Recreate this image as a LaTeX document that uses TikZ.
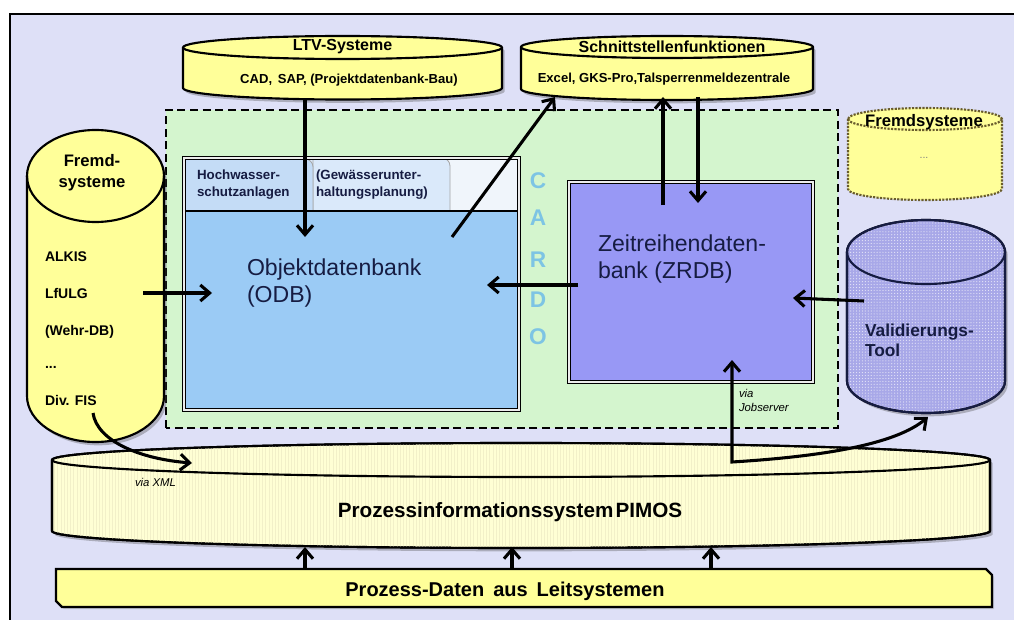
\documentclass[tikz,border=0pt]{standalone}
\usepackage{fontspec}
\setmainfont{Liberation Sans}
\usetikzlibrary{arrows.meta,shadows,patterns.meta}

\definecolor{bgLav}{RGB}{222,224,247}
\definecolor{zoneGreen}{RGB}{212,245,206}
\definecolor{dbYellow}{RGB}{255,255,153}
\definecolor{pimYellow}{RGB}{255,255,212}
\definecolor{pimStripe}{RGB}{242,240,200}
\definecolor{odbBlue}{RGB}{155,203,245}
\definecolor{tabA}{RGB}{196,220,246}
\definecolor{tabB}{RGB}{218,233,250}
\definecolor{tabC}{RGB}{240,245,251}
\definecolor{zrdbViolet}{RGB}{152,152,245}
\definecolor{valViolet}{RGB}{168,168,232}
\definecolor{cardoCyan}{RGB}{125,196,228}
\definecolor{inkNavy}{RGB}{22,28,66}
\definecolor{dotOlive}{RGB}{105,92,45}

\newcommand\fsz[2]{\fontsize{#1}{#2}\selectfont}
% vertical database cylinder: x1, x2, top-ellipse centre y, bottom-ellipse centre y, ry, style
\newcommand\dbcyl[6]{%
  \pgfmathsetmacro\cylrx{(#2-#1)/2}%
  \path[#6] (#1,#3) -- (#1,#4)
    arc[start angle=180,end angle=360,x radius=\cylrx,y radius=#5]
    -- (#2,#3)
    arc[start angle=0,end angle=180,x radius=\cylrx,y radius=#5] -- cycle;}
% front edge of the top ellipse
\newcommand\dbrim[6]{%
  \pgfmathsetmacro\cylrx{(#2-#1)/2}%
  \path[#6] (#1,#3) arc[start angle=180,end angle=360,x radius=\cylrx,y radius=#5];}

\begin{document}
\begin{tikzpicture}[x=0.75pt,y=0.75pt,
  every node/.style={inner sep=0pt,outer sep=0pt},
  shade/.style={drop shadow={shadow xshift=2pt,shadow yshift=-2.5pt,opacity=0.35,fill=black!70}},
  cylbody/.style={draw=black,line width=1.6pt},
  cylrim/.style={draw=black,line width=1.6pt},
  tip/.tip={Straight Barb[length=7pt,width=12pt]},
  flow/.style={line width=2.3pt,-tip},
  flowboth/.style={line width=2.3pt,tip-tip},
  title/.style={font=\bfseries\fsz{12}{14}},
  subtitle/.style={font=\bfseries\fsz{9.8}{12}},
  listitem/.style={anchor=west,font=\bfseries\fsz{10.5}{12}},
  tabtxt/.style={anchor=west,align=left,text=inkNavy,font=\bfseries\fsz{10}{12.7}},
  bigtxt/.style={anchor=west,align=left,text=inkNavy,font=\fsz{17.3}{20.3}},
  cardo/.style={text=cardoCyan,font=\bfseries\fsz{17}{19}},
  viatxt/.style={anchor=west,align=left,font=\itshape\fsz{8.5}{11}}]

\useasboundingbox (0,0) rectangle (1014,619);
\clip (0,0) rectangle (1014,619);
\fill[white] (0,0) rectangle (1014,619);
\draw[fill=bgLav,line width=0.8pt] (10,-20) rectangle (1030,605);

% ---- CARDO zone ----
\draw[fill=zoneGreen,line width=1.5pt,dash pattern=on 6pt off 3.5pt] (166,191) rectangle (838,509);

% ---- external systems on top ----
\dbcyl{183}{502}{571.5}{531}{11.5}{cylbody,fill=dbYellow,shade}
\dbrim{183}{502}{571.5}{531}{11.5}{cylrim}
\node[title] (ltv) at (342.5,572) {LTV-Systeme};
\node[subtitle] (ltvsub) at (349,539) {CAD,\, SAP, (Projektdatenbank-Bau)};

\dbcyl{521}{813}{572}{530}{11}{cylbody,fill=dbYellow,shade}
\dbrim{521}{813}{572}{530}{11}{cylrim}
\node[title] (sst) at (672,572) {Schnittstellenfunktionen};
\node[subtitle] (sstsub) at (664,540) {Excel, GKS-Pro,Talsperrenmeldezentrale};

\dbcyl{848}{1002}{500}{430}{11}{draw=dotOlive,line width=1.6pt,densely dotted,fill=dbYellow}
\dbrim{848}{1002}{500}{430}{11}{draw=dotOlive,line width=1.6pt,densely dotted}
\node[font=\bfseries\fsz{12.5}{14}] (fsr) at (924,497) {Fremdsysteme};
\node[text=gray,font=\fsz{8}{10}] (fsrdots) at (924,461) {...};

% ---- left external systems ----
\dbcyl{27}{164}{443}{223}{46}{cylbody,fill=dbYellow,shade}
\dbrim{27}{164}{443}{223}{46}{cylrim}
\node[align=center,font=\bfseries\fsz{12.5}{15.5}] (fsl) at (92,446) {Fremd-\\systeme};
\node[listitem] (alkis) at (45,362) {ALKIS};
\node[listitem] (lfulg) at (45,326) {LfULG};
\node[listitem] (wehr) at (45,287) {(Wehr-DB)};
\node[listitem] (more) at (45,252) {...};
\node[listitem] (fis) at (45,219) {Div. FIS};

% ---- Objektdatenbank ----
\fill[odbBlue] (184,209) rectangle (519,408);
\fill[tabC] (184,408) rectangle (519,461);
\fill[tabB] (184,408) -- (184,461) -- (442,461) arc[start angle=90,end angle=0,radius=8] -- (450,408) -- cycle;
\draw[gray!70,line width=0.6pt] (313,408) -- (313,461) -- (442,461) arc[start angle=90,end angle=0,radius=8] -- (450,408);
\fill[tabA] (185,408) -- (185,460) -- (305,460) arc[start angle=90,end angle=0,radius=8] -- (313,408) -- cycle;
\draw[gray!70,line width=0.6pt] (305,460) arc[start angle=90,end angle=0,radius=8] -- (313,408);
\draw[black,line width=1pt] (184,408) -- (519,408);
\draw[black,line width=0.9pt,double=white!85!gray,double distance=0.8pt] (184,209) rectangle (519,461);
\node[tabtxt] (tabhw) at (197,434.5) {Hochwasser-\\schutzanlagen};
\node[tabtxt] (tabgw) at (316,434.5) {(Gewässerunter-\\haltungsplanung)};
\node[bigtxt] (odb) at (247,336) {Objektdatenbank\\(ODB)};

% ---- CARDO lettering ----
\node[cardo] (cC) at (538,438) {C};
\node[cardo] (cA) at (538,401) {A};
\node[cardo] (cR) at (538,359) {R};
\node[cardo] (cD) at (538,319) {D};
\node[cardo] (cO) at (538,282) {O};

% ---- Zeitreihendatenbank ----
\draw[fill=zrdbViolet,line width=0.9pt,double=white!85!gray,double distance=0.8pt] (569,237) rectangle (813,437);
\node[bigtxt] (zrdb) at (598,360) {Zeitreihendaten-\\bank (ZRDB)};

% ---- Validierungs-Tool ----
\dbcyl{847}{1005}{367}{238}{32}{cylbody,fill=valViolet,shade}
\dbcyl{847}{1005}{367}{238}{32}{pattern={Dots[distance=2.2pt,radius=0.45pt]},pattern color=white!70!valViolet}
\dbrim{847}{1005}{367}{238}{32}{draw=inkNavy,line width=1.6pt}
\dbcyl{847}{1005}{367}{238}{32}{draw=inkNavy,line width=1.6pt}
\node[anchor=west,align=left,text=inkNavy,font=\bfseries\fsz{13}{15}] (val) at (865,279) {Validierungs-\\Tool};

% ---- PIMOS ----
\dbcyl{52}{990}{159}{88}{17}{cylbody,fill=pimYellow,shade}
\dbcyl{52}{990}{159}{88}{17}{pattern={Lines[angle=90,distance=2.4pt,line width=0.4pt]},pattern color=pimStripe}
\dbcyl{52}{990}{159}{88}{17}{draw=black,line width=1.6pt}
\dbrim{52}{990}{159}{88}{17}{cylrim}
\node[font=\bfseries\fsz{15.5}{18}] (pimos) at (510,107) {Prozessinformationssystem\hspace{0.1em}PIMOS};

% ---- Prozess-Daten ----
\draw[fill=dbYellow,line width=1.6pt,drop shadow={shadow xshift=1.5pt,shadow yshift=-1.5pt,opacity=0.3}]
  (56,18) -- (56,50) -- (986,50) -- (992,44) -- (992,12) -- (62,12) -- cycle;
\node[font=\bfseries\fsz{15}{18}] (pdat) at (505,28) {Prozess-Daten\hspace{0.45em}aus\hspace{0.45em}Leitsystemen};

% ---- connector anchors ----
\coordinate (ltvOut) at (305,520);
\coordinate (odbTop) at (305,382);
\coordinate (odbUp) at (452,382);
\coordinate (sstIn) at (555,522);
\coordinate (zrdbUp) at (663,414);
\coordinate (sstUp) at (663,522);
\coordinate (sstDown) at (698,522);
\coordinate (zrdbIn) at (698,416);
\coordinate (zrdbLeft) at (578,334);
\coordinate (odbRight) at (487,334);
\coordinate (valLeft) at (864,318);
\coordinate (zrdbRight) at (793,321);
\coordinate (fslOut) at (143,326);
\coordinate (odbLeft) at (212,326);
\coordinate (zrdbBot) at (732,259);
\coordinate (jobCorner) at (732,157);
\coordinate (valBot) at (928,202);
\coordinate (fisOut) at (93,206);
\coordinate (pimXml) at (192,156);
\foreach \px/\nm in {305/a,512/b,711/c}{
  \coordinate (pd\nm) at (\px,51);
  \coordinate (pm\nm) at (\px,72);
}

% ---- connectors ----
\draw[flow] (ltvOut) -- (odbTop);
\draw[flow] (odbUp) -- (sstIn);
\draw[flow] (zrdbUp) -- (sstUp);
\draw[flow] (sstDown) -- (zrdbIn);
\draw[flow] (zrdbLeft) -- (odbRight);
\draw[flow] (valLeft) -- (zrdbRight);
\draw[flow] (fslOut) -- (odbLeft);
\draw[flowboth] (zrdbBot) -- (jobCorner) .. controls (830,163) and (897,176) .. (valBot);
\draw[flow] (fisOut) .. controls (97,178) and (140,160) .. (pimXml);
\foreach \nm in {a,b,c}{\draw[flow] (pd\nm) -- (pm\nm);}

\node[viatxt] (viaxml) at (135,137) {via XML};
\node[viatxt] (viajob) at (739,218.5) {via\\Jobserver};

\end{tikzpicture}
\end{document}
